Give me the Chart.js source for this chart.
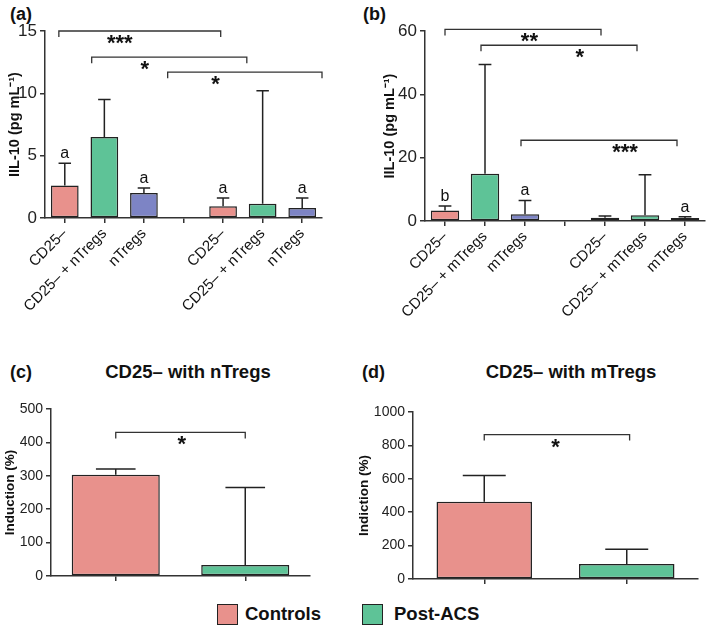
<!DOCTYPE html>
<html>
<head>
<meta charset="utf-8">
<script src="https://cdn.jsdelivr.net/npm/chart.js@4.4.1/dist/chart.umd.min.js"></script>
<style>
  body { margin: 0; background: #fff; width: 709px; height: 630px; position: relative; overflow: hidden;
         font-family: "Liberation Sans", Arial, sans-serif; color: #111; }
  .box { position: absolute; }
  .txt { position: absolute; font-weight: bold; line-height: 1; white-space: nowrap; }
  .key { position: absolute; width: 19px; height: 19px; border: 1.5px solid #222; }
</style>
</head>
<body>

<div class="txt" style="left:10px;top:5px;font-size:18px">(a)</div>
<div class="txt" style="left:363px;top:5px;font-size:18px">(b)</div>
<div class="txt" style="left:10px;top:363px;font-size:18px">(c)</div>
<div class="txt" style="left:362px;top:363px;font-size:18px">(d)</div>
<div class="txt" style="left:98px;top:363px;font-size:18.5px;width:180px;text-align:center">CD25– with nTregs</div>
<div class="txt" style="left:481px;top:363px;font-size:18.5px;width:180px;text-align:center">CD25– with mTregs</div>

<div class="box" style="left:0;top:0;width:355px;height:340px"><canvas id="chartA"></canvas></div>
<div class="box" style="left:355px;top:0;width:354px;height:340px"><canvas id="chartB"></canvas></div>
<div class="box" style="left:0;top:300px;width:355px;height:300px"><canvas id="chartC"></canvas></div>
<div class="box" style="left:355px;top:300px;width:354px;height:300px"><canvas id="chartD"></canvas></div>

<div class="key" style="left:217px;top:604px;background:#E8918C"></div>
<div class="txt" style="left:245px;top:605px;font-size:18.5px">Controls</div>
<div class="key" style="left:362px;top:604px;background:#5EC397"></div>
<div class="txt" style="left:394px;top:605px;font-size:18.5px">Post-ACS</div>

<script>
// Цвета столбиков: CD25–, CD25– + Tregs, Tregs
let colorsBars = ['#E8918C', '#5EC397', '#7D84C5'];

// (a) IL-10, nTregs
let labelsA = ['CD25–', 'CD25– + nTregs', 'nTregs', '', 'CD25–', 'CD25– + nTregs', 'nTregs'];
let meanA = [2.6, 6.5, 2.0, null, 0.95, 1.15, 0.8];
let errA = [4.4, 9.5, 2.4, null, 1.6, 10.2, 1.6];
let lettersA = ['a', '', 'a', '', 'a', '', 'a'];
let kindA = [0, 1, 2, null, 0, 1, 2];
// скобки значимости: от, до, уровень, метка, где метка
let bracketsA = [
  [-0.15, 3.94, 15, '***', 1.39],
  [0.68, 4.6, 12.9, '*', 2.02],
  [2.6, 6.5, 11.7, '*', 3.81]
];

// (b) IL-10, mTregs
let labelsB = ['CD25–', 'CD25– + mTregs', 'mTregs', '', 'CD25–', 'CD25– + mTregs', 'mTregs'];
let meanB = [3.3, 14.9, 2.1, null, 1.05, 1.8, 0.95];
let errB = [4.7, 49.4, 6.5, null, 1.6, 14.6, 1.35];
let lettersB = ['b', '', 'a', '', '', '', 'a'];
let kindB = [0, 1, 2, null, 0, 1, 2];
let bracketsB = [
  [0, 3.9, 60.5, '**', 2.11],
  [0.9, 4.8, 55.5, '*', 3.37],
  [1.9, 5.8, 25.5, '***', 4.5]
];

// (c) индукция, nTregs
let labelsC = ['Controls', 'Post-ACS'];
let meanC = [303, 33];
let errC = [320, 265];
let bracketsC = [[0, 1, 430, '*', 0.51]];

// (d) индукция, mTregs
let labelsD = ['Controls', 'Post-ACS'];
let meanD = [462, 90];
let errD = [620, 178];
let bracketsD = [[0, 1.02, 865, '*', 0.5]];

let fontName = '"Liberation Sans", Arial, sans-serif';

// Плагин: усы ошибок, буквы над столбиками и скобки со звёздочками
let extras = {
  id: 'extras',
  afterDatasetsDraw(chart, args, opts) {
    let ctx = chart.ctx, xs = chart.scales.x, ys = chart.scales.y;
    let meta = chart.getDatasetMeta(0);
    ctx.save();
    ctx.strokeStyle = '#222';
    ctx.fillStyle = '#111';
    ctx.lineWidth = 1.5;
    meta.data.forEach((bar, i) => {
      let e = opts.err[i];
      if (e == null) return;
      let top = ys.getPixelForValue(e);
      let cap = bar.width * 0.45;
      ctx.beginPath();
      ctx.moveTo(bar.x, bar.y);
      ctx.lineTo(bar.x, top);
      ctx.moveTo(bar.x - cap / 2, top);
      ctx.lineTo(bar.x + cap / 2, top);
      ctx.stroke();
      if (opts.letters && opts.letters[i]) {
        ctx.font = '16px ' + fontName;
        ctx.textAlign = 'center';
        ctx.textBaseline = 'alphabetic';
        ctx.fillText(opts.letters[i], bar.x, top - 5);
      }
    });
    ctx.lineWidth = 1.3;
    ctx.strokeStyle = '#333';
    opts.brackets.forEach(b => {
      let x1 = xs.getPixelForValue(b[0]), x2 = xs.getPixelForValue(b[1]);
      let yy = ys.getPixelForValue(b[2]);
      ctx.beginPath();
      ctx.moveTo(x1, yy + 6);
      ctx.lineTo(x1, yy);
      ctx.lineTo(x2, yy);
      ctx.lineTo(x2, yy + 6);
      ctx.stroke();
      ctx.font = 'bold 22px ' + fontName;
      ctx.textAlign = 'center';
      ctx.textBaseline = 'top';
      ctx.fillText(b[3], xs.getPixelForValue(b[4]), yy + 2);
    });
    ctx.restore();
  }
};

function makeChart(id, labels, values, colors, p) {
  return new Chart(document.getElementById(id), {
    type: 'bar',
    data: {
      labels: labels,
      datasets: [{
        data: values,
        backgroundColor: colors,
        borderColor: '#222',
        borderWidth: 1.5,
        borderSkipped: false,
        categoryPercentage: 1,
        barPercentage: p.barPct
      }]
    },
    options: {
      responsive: true,
      maintainAspectRatio: false,
      animation: false,
      layout: { padding: { top: p.top, right: p.right, left: 0, bottom: 0 } },
      plugins: {
        legend: { display: false },
        tooltip: { enabled: false },
        extras: { err: p.err, letters: p.letters, brackets: p.brackets }
      },
      scales: {
        x: {
          offset: true,
          grid: { offset: false, drawOnChartArea: false, drawTicks: true, tickLength: 5, color: '#333', lineWidth: 1.5 },
          border: { color: '#333', width: 1.5 },
          ticks: {
            display: p.showX,
            autoSkip: false,
            minRotation: 45,
            maxRotation: 45,
            padding: 2,
            color: '#111',
            font: { family: fontName, size: 15 }
          },
          afterFit: s => { s.height = p.xHeight; }
        },
        y: {
          min: 0,
          max: p.max,
          grid: { drawOnChartArea: false, drawTicks: true, tickLength: 5, color: '#333', lineWidth: 1.5 },
          border: { color: '#333', width: 1.5 },
          ticks: {
            stepSize: p.step,
            padding: 3,
            color: '#222',
            font: { family: fontName, size: p.tickSize },
            callback: v => String(v)
          },
          title: {
            display: true,
            text: p.title,
            color: '#111',
            padding: { top: p.titlePad, bottom: 0 },
            font: { family: fontName, size: p.titleSize, weight: 'bold' }
          },
          afterFit: s => { s.width = p.yWidth; }
        }
      }
    },
    plugins: [extras]
  });
}

makeChart('chartA', labelsA, meanA, kindA.map(k => k == null ? null : colorsBars[k]), {
  barPct: 0.7, top: 31, right: 33, xHeight: 122, yWidth: 45, max: 15, step: 5, tickSize: 17,
  title: 'IIL-10 (pg mL⁻¹)', titleSize: 14.5, titlePad: 6, showX: true,
  err: errA, letters: lettersA, brackets: bracketsA
});

makeChart('chartB', labelsB, meanB, kindB.map(k => k == null ? null : colorsBars[k]), {
  barPct: 0.71, top: 31, right: 4, xHeight: 119, yWidth: 70, max: 60, step: 20, tickSize: 17,
  title: 'IIL-10 (pg mL⁻¹)', titleSize: 14.5, titlePad: 26, showX: true,
  err: errB, letters: lettersB, brackets: bracketsB
});

makeChart('chartC', labelsC, meanC, [colorsBars[0], colorsBars[1]], {
  barPct: 0.68, top: 109, right: 45, xHeight: 24, yWidth: 51, max: 500, step: 100, tickSize: 14,
  title: 'Induction (%)', titleSize: 13.5, titlePad: 2, showX: false,
  err: errC, letters: null, brackets: bracketsC
});

makeChart('chartD', labelsD, meanD, [colorsBars[0], colorsBars[1]], {
  barPct: 0.67, top: 112, right: 11, xHeight: 21, yWidth: 58, max: 1000, step: 200, tickSize: 14,
  title: 'Indiction (%)', titleSize: 13.5, titlePad: 1.5, showX: false,
  err: errD, letters: null, brackets: bracketsD
});
</script>
</body>
</html>
